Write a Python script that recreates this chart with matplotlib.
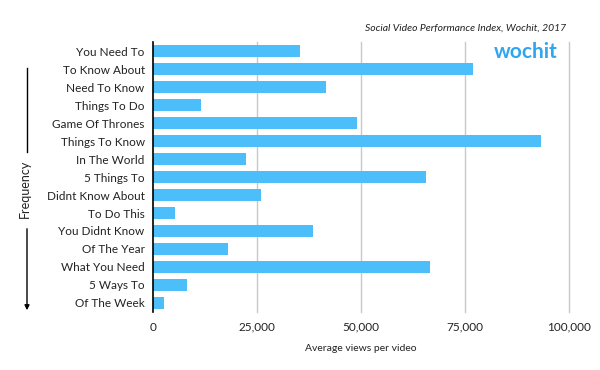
import matplotlib
matplotlib.use("Agg")
import matplotlib.pyplot as plt
from matplotlib.ticker import FuncFormatter

phrases = [
    "You Need To", "To Know About", "Need To Know", "Things To Do",
    "Game Of Thrones", "Things To Know", "In The World", "5 Things To",
    "Didnt Know About", "To Do This", "You Didnt Know", "Of The Year",
    "What You Need", "5 Ways To", "Of The Week",
]
views = [
    35400, 77000, 41500, 11600, 49000, 93300, 22400, 65600,
    26000, 5200, 38400, 18000, 66500, 8250, 2600,
]
x_ticks = [0, 25000, 50000, 75000, 100000]

bar_color = "#4cbffa"
grid_color = "#c8c8c8"
text_color = "#222222"

plt.rcParams["font.family"] = ["Lato", "DejaVu Sans"]

fig = plt.figure(figsize=(6, 3.7), dpi=100)
ax = fig.add_axes([0.255, 0.157, 0.693, 0.729])

ypos = list(range(len(phrases)))
ax.barh(ypos, views, height=0.68, color=bar_color, zorder=3)
ax.set_ylim(len(phrases) - 0.5, -0.5)
ax.set_xlim(0, 100000)

ax.set_yticks(ypos)
ax.set_yticklabels(phrases, fontsize=8.5, color=text_color)
ax.set_xticks(x_ticks)
ax.xaxis.set_major_formatter(FuncFormatter(lambda v, p: f"{int(v):,}"))
ax.tick_params(axis="x", labelsize=8.5, colors=text_color, length=0, pad=7)
ax.tick_params(axis="y", length=0, pad=6)

for t in x_ticks[1:]:
    ax.axvline(t, color=grid_color, linewidth=1, zorder=1, clip_on=False)

for side in ["top", "right", "bottom"]:
    ax.spines[side].set_visible(False)
ax.spines["left"].set_color("black")
ax.spines["left"].set_linewidth(1.2)
ax.spines["left"].set_zorder(4)

ax.set_xlabel("Average views per video", fontsize=7.5, color=text_color, labelpad=8)

fig.text(0.943, 0.925, "Social Video Performance Index, Wochit, 2017",
         fontsize=7.5, style="italic", ha="right", va="center", color=text_color)
fig.text(0.93, 0.86, "wochit", fontsize=15, fontweight="bold", ha="right",
         va="center", color="#2fa6ee")

# Frequency arrow on the left
fig.text(0.042, 0.49, "Frequency", rotation=90, fontsize=9, ha="center",
         va="center", color=text_color)
fig.add_artist(plt.Line2D([0.045, 0.045], [1 - 68 / 370, 1 - 152 / 370],
                          color="black", linewidth=1, transform=fig.transFigure))
ax.annotate("", xy=(0.045, 1 - 313 / 370), xytext=(0.045, 1 - 226 / 370),
            xycoords="figure fraction", textcoords="figure fraction",
            arrowprops=dict(arrowstyle="-|>", color="black", lw=1,
                            mutation_scale=7))

fig.savefig("out.png", dpi=100)
